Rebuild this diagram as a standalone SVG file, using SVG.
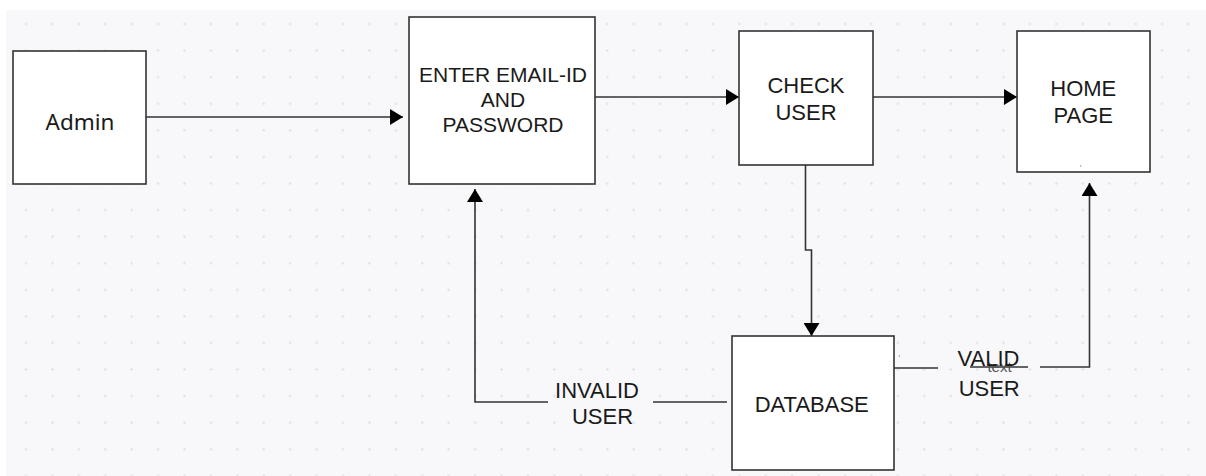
<svg xmlns="http://www.w3.org/2000/svg" width="1206" height="476" viewBox="0 0 1206 476">
  <defs>
    <pattern id="dots" patternUnits="userSpaceOnUse" x="12.79" y="10.71" width="26.42" height="26.58">
      <circle cx="13.21" cy="13.29" r="1.2" fill="#e0e0e4"/>
    </pattern>
    <marker id="arrow" markerUnits="userSpaceOnUse" markerWidth="14" markerHeight="16" refX="13" refY="8" orient="auto">
      <path d="M0,0 L13,8 L0,16 z" fill="#000"/>
    </marker>
  </defs>
  <style>
    .box { fill: #ffffff; stroke: #333333; stroke-width: 1.6; }
    .lbl { font-family: "Liberation Sans", Arial, sans-serif; font-size: 22px; fill: #1a1a1a; text-anchor: middle; }
    .edge { fill: none; stroke: #333333; stroke-width: 1.6; }
  </style>
  <rect x="0" y="0" width="1206" height="476" fill="#ffffff"/>
  <rect x="6" y="10" width="1200" height="466" fill="#f8f8fa"/>
  <rect x="6" y="10" width="1200" height="466" fill="url(#dots)"/>

  <g id="connectors">
    <path class="edge" d="M144,117 H403" marker-end="url(#arrow)"/>
    <path class="edge" d="M595,97 H739" marker-end="url(#arrow)"/>
    <path class="edge" d="M872,97 H1017" marker-end="url(#arrow)"/>
    <path class="edge" d="M805.5,165 V250 H811.5 V336" marker-end="url(#arrow)"/>
    <path class="edge" d="M727,402 H653 M548,402 H475 V189" marker-end="url(#arrow)"/>
    <path class="edge" d="M889,368 H938 M970,367 H1028 M1040,367 H1089.5 V183" marker-end="url(#arrow)"/>
  </g>

  <g id="node-admin">
    <rect class="box" x="13" y="51" width="133" height="133"/>
    <text x="80" y="129.5" font-family="'Noto Sans', 'Open Sans', sans-serif" font-size="22.5" fill="#1a1a1a" text-anchor="middle">Admin</text>
  </g>

  <g id="node-enter">
    <rect class="box" x="409" y="17" width="186" height="167"/>
    <text class="lbl" font-size="21" x="503" y="81.7" style="font-size:21px">ENTER EMAIL-ID</text>
    <text class="lbl" x="503" y="106.5" style="font-size:21px">AND</text>
    <text class="lbl" x="503" y="131.5" style="font-size:21px">PASSWORD</text>
  </g>

  <g id="node-check">
    <rect class="box" x="739" y="31" width="134" height="134"/>
    <text class="lbl" x="806" y="93.3">CHECK</text>
    <text class="lbl" x="806" y="120">USER</text>
  </g>

  <g id="node-home">
    <rect class="box" x="1017" y="31" width="133" height="141"/>
    <text class="lbl" x="1083.3" y="96">HOME</text>
    <text class="lbl" x="1083.3" y="123">PAGE</text>
    <rect x="1080.2" y="165.5" width="1" height="1" fill="#555"/>
  </g>

  <g id="node-database">
    <rect class="box" x="732" y="336" width="162" height="134"/>
    <text class="lbl" x="811.7" y="412">DATABASE</text>
    <rect x="898.8" y="355.5" width="1" height="1" fill="#555"/>
  </g>

  <g id="label-invalid">
    <text class="lbl" x="597" y="397.7">INVALID</text>
    <text class="lbl" x="602.5" y="424.3">USER</text>
  </g>

  <g id="label-valid">
    <text x="999.5" y="371.5" font-family="'Liberation Sans', Arial, sans-serif" font-size="15" fill="#555" text-anchor="middle">text</text>
    <text class="lbl" x="988.5" y="366">VALID</text>
    <text class="lbl" x="989.2" y="396">USER</text>
  </g>
</svg>
